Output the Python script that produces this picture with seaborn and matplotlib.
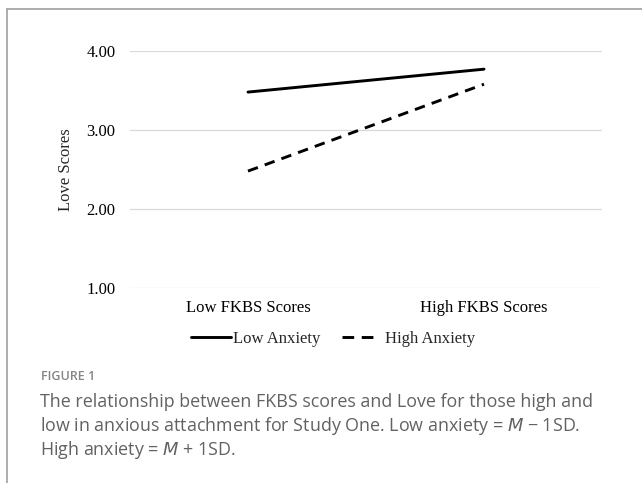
import pandas as pd
import numpy as np
import matplotlib.pyplot as plt
import matplotlib.lines as mlines
import seaborn as sb

categories = ['Low FKBS Scores', 'High FKBS Scores']
low_anxiety = [3.48, 3.77]
high_anxiety = [2.48, 3.58]
groups = ['Low Anxiety', 'High Anxiety']
y_ticks = [1.00, 2.00, 3.00, 4.00]

myData = pd.DataFrame({
    'FKBS': categories * 2,
    'Love': low_anxiety + high_anxiety,
    'Anxiety': [groups[0]] * 2 + [groups[1]] * 2,
})

sb.set_theme(style='white')
plt.rcParams['font.family'] = ['Liberation Serif', 'DejaVu Serif']

fig = plt.figure(figsize=(6.42, 4.83), dpi=100)
ax = fig.add_axes([130 / 642, 1 - 288 / 483, 472 / 642, 237 / 483])

ax = sb.lineplot(data=myData, x='FKBS', y='Love', hue='Anxiety', style='Anxiety',
                 palette=['black', 'black'], dashes=[(None, None), (3.6, 2.5)],
                 linewidth=2.1, sort=False, legend=False, ax=ax)

ax.set_xlim(-0.5, 1.5)
ax.set_ylim(1, 4)
ax.set_yticks(y_ticks)
ax.set_yticklabels(['%.2f' % t for t in y_ticks])
ax.yaxis.grid(True, color='#d9d9d9', linewidth=0.9)
ax.set_axisbelow(True)
for s in ax.spines.values():
    s.set_visible(False)
ax.tick_params(axis='both', length=0, labelsize=12, colors='black')
ax.tick_params(axis='y', pad=10.5)
ax.tick_params(axis='x', pad=9)
ax.set_xlabel('')
ax.set_ylabel('Love Scores', fontsize=12, labelpad=9)

# legend under the plot
h1 = mlines.Line2D([], [], color='black', linewidth=2.1)
h2 = mlines.Line2D([], [], color='black', linewidth=2.1, linestyle=(0, (4, 2.6, 4, 10)))
fig.legend([h1, h2], groups, loc='center', bbox_to_anchor=(333 / 642, 1 - 339 / 483),
           ncol=2, frameon=False, fontsize=12, handlelength=2.4, handletextpad=0.15,
           columnspacing=1.3)

# figure frame
fig.add_artist(mlines.Line2D([7 / 642, 1], [1 - 9 / 483, 1 - 9 / 483], color='#a0a0a0', linewidth=1.2))
fig.add_artist(mlines.Line2D([7 / 642, 7 / 642], [0, 1 - 9 / 483], color='#a0a0a0', linewidth=1.2))

# caption
fig.text(41 / 642, 1 - 377 / 483, 'FIGURE 1', family='Open Sans', fontsize=9,
         fontweight='semibold', color='#858585', va='center', ha='left')
caption_lines = ['The relationship between FKBS scores and Love for those high and',
                 'low in anxious attachment for Study One. Low anxiety = $M$ \u2212 1SD.',
                 'High anxiety = $M$ + 1SD.']
for i, line in enumerate(caption_lines):
    fig.text(40 / 642, 1 - (402 + 24 * i) / 483, line, family='Open Sans', fontsize=12.9,
             color='#626262', va='center', ha='left')

plt.savefig('out.png', dpi=100)
